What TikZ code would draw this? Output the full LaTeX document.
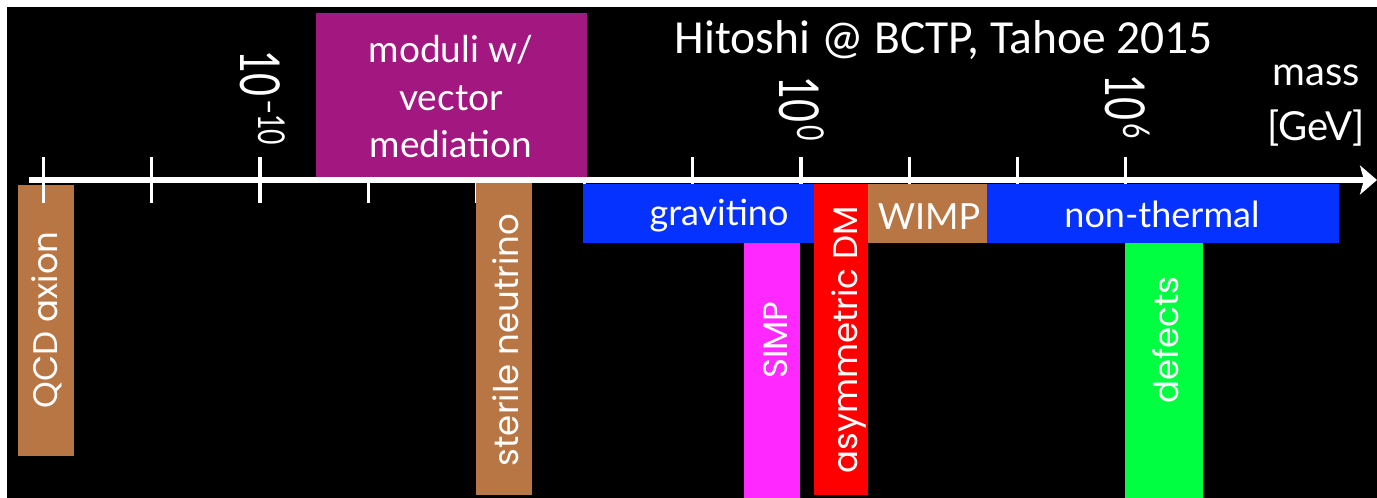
\documentclass[tikz,border=0pt]{standalone}
\usepackage{fontspec}
\setmainfont{Lato}
\newfontfamily\calib{Carlito}
\newfontfamily\geo{Poppins}
\usetikzlibrary{arrows.meta}
\definecolor{cbrown}{RGB}{185,118,69}
\definecolor{cpurple}{RGB}{163,24,128}
\definecolor{cblue}{RGB}{5,50,255}
\definecolor{cmag}{RGB}{255,40,255}
\definecolor{cred}{RGB}{255,0,0}
\definecolor{cgreen}{RGB}{0,255,64}
\newcommand{\tickexp}[2]{\scalebox{0.72}[1]{\fontsize{55}{55}\selectfont #1\hspace{4pt}\raisebox{18pt}{\fontsize{37}{37}\selectfont #2}}}
\begin{document}
\begin{tikzpicture}[x=1pt,y=-1pt,
  band/.style={rectangle, inner sep=0pt, outer sep=0pt, draw=none, anchor=north west},
  lab/.style={text=white, inner sep=0pt, anchor=base, font=\fontsize{36}{36}\selectfont},
  vlab/.style={text=white, inner sep=0pt, anchor=base, rotate=90, font=\geo\fontsize{34}{34}\selectfont},
  ticklab/.style={text=white, inner sep=0pt, rotate=-90, anchor=base west},
  tk/.style={white, line width=3.2pt},
]
\useasboundingbox (0,0) rectangle (1377,498);
\fill[white] (0,0) rectangle (1377,498);
\fill[black] (7,7) rectangle (1377,498);

% QCD axion band (beneath the axis ticks)
\node[band, fill=cbrown, minimum width=56pt, minimum height=271pt] (qcd) at (18,185) {};

% axis
\coordinate (axstart) at (29,180);
\coordinate (axend) at (1377,180);
\draw[white, line width=5.5pt, -{Stealth[length=17pt,width=29pt,inset=4pt]}] (axstart) -- (axend);
\foreach \i in {0,...,10}{
  \draw[tk] (43.5+108.2*\i,157) -- (43.5+108.2*\i,203);
}

% tick labels
\node[ticklab] (l1) at (240,50) {\tickexp{10}{–10}};
\node[ticklab] (l2) at (779,76) {\tickexp{10}{0}};
\node[ticklab] (l3) at (1105,74) {\tickexp{10}{6}};

% bands
\node[band, fill=cbrown, minimum width=56pt, minimum height=312pt] (sterile) at (476,183) {};
\node[band, fill=cpurple, minimum width=271pt, minimum height=164pt] (moduli) at (316,13) {};
\node[band, fill=cblue, minimum width=231pt, minimum height=59pt] (grav) at (583,184) {};
\node[band, fill=cmag, minimum width=56pt, minimum height=255pt] (simp) at (744,243) {};
\node[band, fill=cred, minimum width=54pt, minimum height=311pt] (asym) at (814,184) {};
\node[band, fill=cbrown, minimum width=119pt, minimum height=59pt] (wimp) at (868,184) {};
\node[band, fill=cblue, minimum width=352pt, minimum height=59pt] (nonth) at (987,184) {};
\node[band, fill=cgreen, minimum width=78pt, minimum height=255pt] (defects) at (1125,243) {};

% horizontal labels
\node[lab, font=\fontsize{37}{37}\selectfont] (m1) at (451,62) {moduli w/};
\node[lab, font=\fontsize{37}{37}\selectfont] (m2) at (451,110) {vector};
\node[lab, font=\fontsize{37}{37}\selectfont] (m3) at (451,157) {mediation};
\node[lab] (tgrav) at (719,225) {gravitino};
\node[lab] (twimp) at (929,229) {WIMP};
\node[lab] (tnonth) at (1162,227) {non-thermal};

% vertical labels
\node[vlab] (tqcd) at (57,320) {QCD axion};
\node[vlab] (tster) at (518,340) {sterile neutrino};
\node[vlab] (tsimp) at (787,340) {SIMP};
\node[vlab] (tasym) at (857,340) {asymmetric DM};
\node[vlab] (tdef) at (1178,340) {defects};

% titles
\node[text=white, inner sep=0pt, anchor=base, font=\calib\fontsize{47.5}{47.5}\selectfont] (title) at (944,53) {Hitoshi @ BCTP, Tahoe 2015};
\node[lab, font=\fontsize{40}{40}\selectfont] (mass) at (1316,85) {mass};
\node[lab, font=\fontsize{40}{40}\selectfont] (gev) at (1316,140) {[GeV]};
\end{tikzpicture}
\end{document}
